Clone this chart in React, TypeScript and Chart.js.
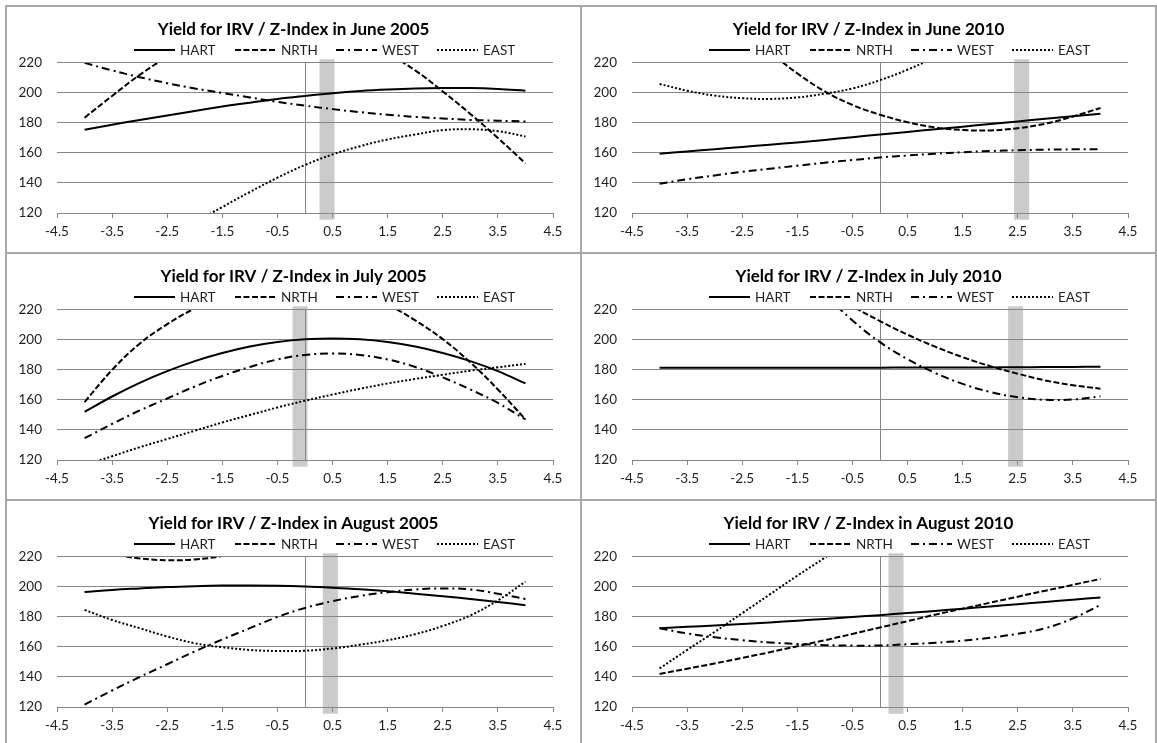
import React, { useEffect, useRef } from 'react';
import { Chart, registerables } from 'chart.js';

Chart.register(...registerables);

// ---------- data ----------
const zIndex = [-4, -3.5, -3, -2.5, -2, -1.5, -1, -0.5, 0, 0.5, 1, 1.5, 2, 2.5, 3, 3.5, 4];
const seriesNames = ['HART', 'NRTH', 'WEST', 'EAST'];
const xTickValues = [-4.5, -3.5, -2.5, -1.5, -0.5, 0.5, 1.5, 2.5, 3.5, 4.5];
const yTickValues = [120, 140, 160, 180, 200, 220];

const panelTitles = [
  'Yield for IRV / Z-Index in June 2005',
  'Yield for IRV / Z-Index in June 2010',
  'Yield for IRV / Z-Index in July 2005',
  'Yield for IRV / Z-Index in July 2010',
  'Yield for IRV / Z-Index in August 2005',
  'Yield for IRV / Z-Index in August 2010',
];
const bandCenters = [0.4, 2.57, -0.09, 2.46, 0.46, 0.29];
const bandRange = [115.5, 222.5];
const zeroLine = 0;

const jun05Hart = [175.5, 178.8, 182, 185, 188, 191, 193.5, 196, 198, 199.8, 201.2, 202.2, 202.9, 203.2, 203.2, 202.6, 201.5];
const jun05Nrth = [183.5, 198, 212, 224, 234, 240, 244, 245, 244, 240, 234, 226, 215, 201, 186, 170, 153];
const jun05West = [220, 215, 210.5, 206.5, 203, 200, 197, 194, 191.5, 189.2, 187.2, 185.5, 184, 183, 182, 181.5, 181];
const jun05East = [66.5, 79, 91, 102.5, 113.5, 124, 134, 143.5, 152, 159, 164.5, 169, 172.3, 175.2, 175.8, 174.5, 171];

const jun10Hart = [159.5, 161, 162.5, 164, 165.5, 167, 168.7, 170.5, 172.3, 174, 175.8, 177.5, 179.3, 181, 182.8, 184.5, 186.2];
const jun10Nrth = [290, 272, 256, 240.5, 227, 213, 201, 192, 185.5, 180.5, 177, 175.3, 175, 176.5, 179.5, 184.3, 190];
const jun10West = [139.5, 142.5, 145, 147.5, 149.5, 151.5, 153.5, 155.3, 157, 158.3, 159.5, 160.5, 161.3, 161.8, 162.2, 162.4, 162.4];
const jun10East = [206, 201.5, 198.2, 196.5, 196, 197, 199.5, 203, 208.5, 215.5, 224, 234, 245, 257, 270, 284, 299];

const jul05Hart = [152, 162.3, 171.4, 179.2, 185.9, 191.3, 195.6, 198.6, 200.4, 201, 200.4, 198.6, 195.6, 191.3, 185.9, 179.2, 171];
const jul05Nrth = [158.6, 180, 197.5, 210.5, 221, 229, 235, 238, 238.5, 236, 231, 223.5, 213, 200.5, 185, 167, 147];
const jul05West = [134.5, 144, 153, 161, 169, 176, 182, 187, 190, 191, 190, 187, 182, 175, 167, 158, 147];
const jul05East = [116.5, 122.5, 128.5, 134, 139.5, 145, 150, 155, 159.5, 163.6, 167.5, 171, 174, 176.8, 179.5, 181.8, 184];

const jul10Hart = [181.5, 181.5, 181.5, 181.5, 181.5, 181.5, 181.5, 181.5, 181.5, 181.6, 181.6, 181.7, 181.7, 181.8, 181.9, 182, 182.1];
const jul10Nrth = [320.5, 303.5, 287.5, 272.5, 258.5, 245.5, 233.5, 222.5, 212.5, 203.5, 195.5, 188.5, 182.5, 177.5, 173, 169.8, 167.5];
const jul10West = [402, 366, 333, 303, 276, 251.7, 230.7, 213, 198.5, 187.2, 178, 170.7, 165.3, 161.8, 160.1, 160.3, 162.4];
const jul10East = [245, 240, 236, 233, 231, 230, 230, 231, 233, 236, 240, 245, 251, 258, 266, 275, 285];

const aug05Hart = [196.6, 198, 199, 199.9, 200.5, 200.9, 201, 200.8, 200.3, 199.5, 198.5, 197.2, 195.5, 193.8, 192, 190, 187.8];
const aug05Nrth = [226.5, 221.9, 219, 217.8, 218.3, 220.6, 224.5, 229.9, 237.4, 246.4, 257, 269.5, 283.6, 299, 316, 334.6, 355];
const aug05West = [121.6, 131, 140, 148.5, 157, 165, 172.5, 180, 186, 190.5, 194, 196.5, 198.3, 199, 198.3, 195.5, 192];
const aug05East = [184.7, 178, 172.5, 167, 162.5, 159.8, 158, 157.3, 157.5, 159, 161.5, 164.5, 168.5, 174, 181, 191, 203.5];

const aug10Hart = [172.5, 173.4, 174.3, 175.3, 176.3, 177.5, 178.7, 180, 181.2, 182.6, 184, 185.5, 187, 188.5, 190, 191.5, 193];
const aug10Nrth = [142, 145.5, 149, 152.7, 156.5, 160.5, 164.5, 168.7, 173, 177.2, 181.5, 185.5, 189.5, 193.5, 197.5, 201.4, 205.3];
const aug10West = [172.5, 169, 166.5, 164.5, 163, 162, 161.2, 160.9, 161, 161.8, 162.8, 164.2, 166.2, 168.8, 172.5, 179, 188];
const aug10East = [145.7, 158, 170, 182.5, 195, 207.5, 219.5, 232, 244.5, 257, 269.5, 282, 294.5, 307, 319.5, 332, 344.5];

const panelSeries = [
  [jun05Hart, jun05Nrth, jun05West, jun05East],
  [jun10Hart, jun10Nrth, jun10West, jun10East],
  [jul05Hart, jul05Nrth, jul05West, jul05East],
  [jul10Hart, jul10Nrth, jul10West, jul10East],
  [aug05Hart, aug05Nrth, aug05West, aug05East],
  [aug10Hart, aug10Nrth, aug10West, aug10East],
];

// ---------- styles ----------
const FONT = 'Lato, "Open Sans", sans-serif';
const TEXT = '#1f1f1f';
const GRID = '#868686';
const PANEL_BORDER = '#a8a8a8';
const seriesDash = [[], [6, 2.5], [8, 4, 2, 4], [2, 2]];
const CANVAS_W = 573;
const CANVAS_H = 245;

const lineLegend = {
  id: 'lineLegend',
  afterDraw(chart: any) {
    const ctx = chart.ctx;
    const left = chart.chartArea.left + 77;
    const y = 43;
    ctx.save();
    chart.data.datasets.forEach((ds: any) => {
      const k = seriesNames.indexOf(ds.label);
      if (k < 0) return;
      const x = left + k * 101;
      ctx.strokeStyle = ds.borderColor;
      ctx.lineWidth = ds.borderWidth;
      ctx.lineCap = 'butt';
      ctx.setLineDash(ds.borderDash || []);
      ctx.beginPath();
      ctx.moveTo(x, y);
      ctx.lineTo(x + 41, y);
      ctx.stroke();
      ctx.setLineDash([]);
      ctx.fillStyle = TEXT;
      ctx.font = `13.5px ${FONT}`;
      ctx.textBaseline = 'middle';
      ctx.textAlign = 'left';
      ctx.fillText(ds.label, x + 46, y + 0.5);
    });
    ctx.restore();
  },
};

function Panel({ index }: { index: number }) {
  const ref = useRef<HTMLCanvasElement | null>(null);
  useEffect(() => {
    let chart: Chart | null = null;
    let cancelled = false;
    const make = () => {
      if (cancelled || !ref.current) return;
      const series = panelSeries[index];
      const datasets: any[] = series.map((vals, i) => ({
        type: 'line',
        label: seriesNames[i],
        data: zIndex.map((x, j) => ({ x, y: vals[j] })),
        borderColor: '#000000',
        borderWidth: 2,
        borderDash: seriesDash[i],
        pointRadius: 0,
        tension: 0.4,
        fill: false,
        xAxisID: 'x',
        yAxisID: 'y',
        order: 1,
      }));
      datasets.push({
        type: 'line',
        label: 'band',
        data: bandRange.map((y) => ({ x: bandCenters[index], y })),
        borderColor: 'rgba(140,140,140,0.45)',
        borderWidth: 15,
        borderCapStyle: 'butt',
        pointRadius: 0,
        clip: false,
        xAxisID: 'x',
        yAxisID: 'y',
        order: 10,
      });
      chart = new Chart(ref.current, {
        type: 'line',
        data: { datasets },
        options: {
          animation: false,
          responsive: false,
          devicePixelRatio: 1,
          layout: { padding: { top: 0, left: 0, right: 0, bottom: 0 } },
          plugins: {
            legend: { display: false },
            tooltip: { enabled: false },
            title: {
              display: true,
              text: panelTitles[index],
              color: '#000',
              font: { family: FONT, size: 17, weight: 'bold', lineHeight: 1.2 },
              padding: { top: 12.5, bottom: 23 },
            },
          },
          scales: {
            x: {
              type: 'linear',
              min: -4.5,
              max: 4.5,
              afterFit: (s: any) => { s.height = 39; },
              afterBuildTicks: (s: any) => { s.ticks = xTickValues.map((v) => ({ value: v })); },
              ticks: {
                color: TEXT,
                font: { family: FONT, size: 13.5 },
                padding: 6,
                maxRotation: 0,
                autoSkip: false,
                callback: (v: any) => Number(v).toFixed(1),
              },
              grid: { drawOnChartArea: false, drawTicks: true, tickLength: 5, color: GRID },
              border: { display: true, color: GRID, width: 1 },
            },
            y: {
              type: 'linear',
              position: 'left',
              min: 120,
              max: 220,
              afterFit: (s: any) => { s.width = 50; },
              afterBuildTicks: (s: any) => { s.ticks = yTickValues.map((v) => ({ value: v })); },
              ticks: { color: TEXT, font: { family: FONT, size: 13.5 }, padding: 15 },
              grid: { color: GRID, lineWidth: 1, drawTicks: false },
              border: { display: false },
            },
            yRight: {
              type: 'linear',
              axis: 'y',
              position: 'right',
              min: 120,
              max: 220,
              afterFit: (s: any) => { s.width = 27; },
              ticks: { display: false },
              grid: { display: false, drawTicks: false },
              border: { display: false },
            },
            y0: {
              type: 'linear',
              axis: 'y',
              position: { x: zeroLine },
              min: 120,
              max: 220,
              ticks: { display: false },
              grid: { display: true, drawOnChartArea: false, drawTicks: false },
              border: { display: true, color: GRID, width: 1 },
            },
          } as any,
        },
        plugins: [lineLegend],
      } as any);
    };
    const fonts = (document as any).fonts;
    if (fonts && fonts.load) {
      Promise.all([fonts.load(`bold 17px Lato`), fonts.load(`13.5px Lato`)])
        .catch(() => null)
        .then(make);
    } else make();
    return () => {
      cancelled = true;
      if (chart) chart.destroy();
    };
  }, [index]);

  const col = index % 2;
  const row = Math.floor(index / 2);
  return (
    <div
      style={{
        position: 'absolute',
        left: 5 + col * 575,
        top: 5 + row * 247,
        width: 577,
        height: 249,
        border: `2px solid ${PANEL_BORDER}`,
        boxSizing: 'border-box',
        background: '#fff',
      }}
    >
      <canvas ref={ref} width={CANVAS_W} height={CANVAS_H} style={{ display: 'block', width: CANVAS_W, height: CANVAS_H }} />
    </div>
  );
}

export default function App() {
  return (
    <div style={{ position: 'fixed', left: 0, top: 0, width: 1157, height: 743, background: '#fff', overflow: 'hidden' }}>
      {panelTitles.map((_, i) => (
        <Panel key={i} index={i} />
      ))}
    </div>
  );
}
